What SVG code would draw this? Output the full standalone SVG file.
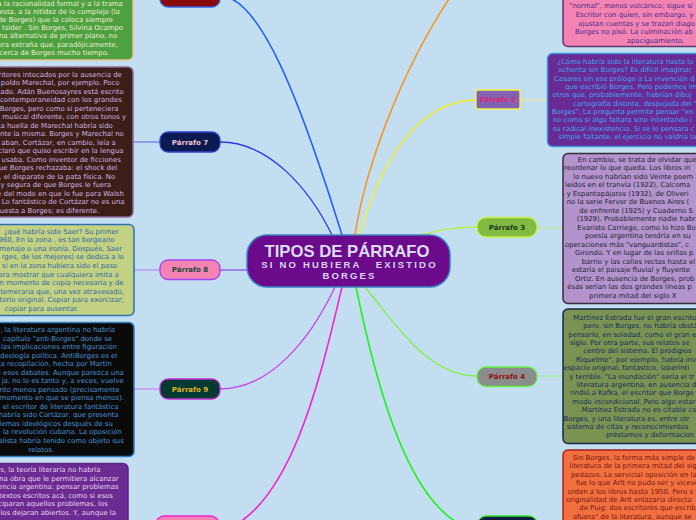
<svg xmlns="http://www.w3.org/2000/svg" width="696" height="520" viewBox="0 0 696 520">
<style>
.lt{font-family:"DejaVu Sans",Verdana,sans-serif;font-size:6.9px}
.le{text-anchor:end}
.nl{font-family:"DejaVu Sans",Verdana,sans-serif;font-size:7px;font-weight:bold;text-anchor:middle}
.c{fill:none}
.box{stroke-width:1.5}
</style>
<rect x="0" y="0" width="696" height="520" fill="#c4def1"/>
<g id="connectors">
<path class="c" d="M220,-4 C260,-4 300,100 342,235" stroke="#2263f2" stroke-width="1.6"/>
<path class="c" d="M220,142 C270,142 310,190 332,235" stroke="#3434e0" stroke-width="1.3"/>
<path class="c" d="M355,235 C365,170 400,70 455,-10" stroke="#f5941e" stroke-width="1.5"/>
<path class="c" d="M360,235 C380,160 420,100 476,100" stroke="#f2f222" stroke-width="1.5"/>
<path class="c" d="M420,235 C440,230 455,227 477,227" stroke="#b4f044" stroke-width="1.3"/>
<path class="c" d="M247,270 L220,270" stroke="#9464f0" stroke-width="1.5"/>
<path class="c" d="M335,287 C310,340 270,389 220,389" stroke="#c444f0" stroke-width="1.3"/>
<path class="c" d="M342,287 C320,380 290,510 220,532" stroke="#f222d2" stroke-width="1.6"/>
<path class="c" d="M356,287 C375,380 410,520 478,530" stroke="#22f022" stroke-width="1.6"/>
<path class="c" d="M365,287 C400,330 430,376 477,376" stroke="#7ef044" stroke-width="1.3"/>
<path class="c" d="M160,142 L133,142" stroke="#5a5af0" stroke-width="1"/>
<path class="c" d="M160,270 L134,270" stroke="#a47cf0" stroke-width="1"/>
<path class="c" d="M160,389 L134,389" stroke="#c474f0" stroke-width="1"/>
<path class="c" d="M520,100 L547,100" stroke="#f0f08a" stroke-width="1"/>
<path class="c" d="M537,228 L563,228" stroke="#b4f070" stroke-width="1"/>
<path class="c" d="M537,376 L563,376" stroke="#9cf07a" stroke-width="1"/>
</g>
<g id="central">
<rect x="247" y="235" width="203" height="52" rx="20" fill="#6b0a8a" stroke="#3a82c2" stroke-width="1.5"/>
<text x="347" y="256.5" font-family="Liberation Sans,Arial,sans-serif" font-weight="bold" font-size="17" fill="#dcdcf6" text-anchor="middle" textLength="165" lengthAdjust="spacingAndGlyphs">TIPOS DE PÁRRAFO</text>
<text x="349.5" y="268.3" font-family="Liberation Sans,Arial,sans-serif" font-weight="bold" font-size="9.5" fill="#d6d6f0" text-anchor="middle" letter-spacing="2.2" xml:space="preserve">SI NO HUBIERA   EXISTIDO</text>
<text x="349.5" y="279" font-family="Liberation Sans,Arial,sans-serif" font-weight="bold" font-size="9.5" fill="#d6d6f0" text-anchor="middle" letter-spacing="2.1">BORGES</text>
</g>
<g id="node-p6">
<rect x="160" y="-14" width="60" height="21" rx="8" fill="#8a0a0a" stroke="#3262e0" stroke-width="1.3"/>
</g>
<g id="node-p7">
<rect x="160" y="132" width="60" height="20" rx="8" fill="#0b1a50" stroke="#3442d0" stroke-width="1.3"/>
<text class="nl" x="190" y="144.5" fill="#f2c4d4">Párrafo 7</text>
</g>
<g id="node-p8">
<rect x="160" y="260" width="60" height="19.5" rx="8" fill="#f283b3" stroke="#a244f0" stroke-width="1.3"/>
<text class="nl" x="190" y="272.3" fill="#1a4a3a">Párrafo 8</text>
</g>
<g id="node-p9">
<rect x="160" y="379" width="60" height="20" rx="8" fill="#003a30" stroke="#c432d2" stroke-width="1.3"/>
<text class="nl" x="190" y="391.6" fill="#e2b222">Párrafo 9</text>
</g>
<g id="node-p10">
<rect x="156" y="516" width="63" height="21" rx="8" fill="#f283b3" stroke="#f022d2" stroke-width="1.3"/>
</g>
<g id="node-p2">
<rect x="476" y="90" width="44" height="19" rx="2" fill="#8262b2" stroke="#f2f242" stroke-width="1.3"/>
<text class="nl" x="498" y="102" fill="#e22272">Párrafo 2</text>
</g>
<g id="node-p3">
<rect x="477" y="217.5" width="60" height="19.5" rx="9" fill="#82ba42" stroke="#c2f242" stroke-width="1.3"/>
<text class="nl" x="507" y="229.8" fill="#1a3a1a">Párrafo 3</text>
</g>
<g id="node-p4">
<rect x="477" y="367" width="60" height="19.5" rx="9" fill="#8c8c8c" stroke="#62f242" stroke-width="1.3"/>
<text class="nl" x="507" y="379.2" fill="#8a1212">Párrafo 4</text>
</g>
<g id="node-p5">
<rect x="478" y="516" width="59" height="21" rx="8" fill="#0b2040" stroke="#32e232" stroke-width="1.3"/>
</g>
<g id="leaf-p6">
<rect class="box" x="-60" y="-40" width="193" height="100" rx="5" fill="#4fa043" stroke="#e9c58a"/>
<text class="lt le" fill="#eef2cc">
<tspan x="125" y="5.5">a la racionalidad formal y a la trama</tspan>
<tspan x="122" y="13.7">esta, a la nitidez de lo complejo (la</tspan>
<tspan x="115.3" y="22">de Borges) que la coloca siempre</tspan>
<tspan x="125.3" y="30.2">tsider . Sin Borges, Silvina Ocampo</tspan>
<tspan x="119.3" y="38.4">una alternativa de primer plano, no</tspan>
<tspan x="120" y="46.7">ora extraña que, paradójicamente,</tspan>
<tspan x="109" y="54.9">cerca de Borges mucho tiempo.</tspan>
</text>
</g>
<g id="leaf-p7">
<rect class="box" x="-60" y="67" width="193" height="150" rx="5" fill="#3b1e17" stroke="#8a6a9a"/>
<text class="lt le" fill="#d4b4e2">
<tspan x="124" y="76.9">ritores intocados por la ausencia de</tspan>
<tspan x="121.7" y="85.4">poldo Marechal, por ejemplo. Poco</tspan>
<tspan x="126" y="93.9">ado. Adán Buenosayres está escrito</tspan>
<tspan x="124" y="102.4">contemporaneidad con los grandes</tspan>
<tspan x="120.7" y="110.9">Borges, pero como si perteneciera</tspan>
<tspan x="128.3" y="119.4">musical diferente, con otros tonos y</tspan>
<tspan x="115" y="127.9">a huella de Marechal habría sido</tspan>
<tspan x="126" y="136.4">nte la misma. Borges y Marechal no</tspan>
<tspan x="118" y="144.9">aban. Cortázar, en cambio, leía a</tspan>
<tspan x="125.7" y="153.4">claró que quiso escribir en la lengua</tspan>
<tspan x="123" y="161.9">usaba. Como inventor de ficciones</tspan>
<tspan x="119.3" y="170.4">ue Borges rechazaba: el shock del</tspan>
<tspan x="117.3" y="178.9">, el disparate de la pata física. No</tspan>
<tspan x="113.3" y="187.4">y segura de que Borges le fuera</tspan>
<tspan x="126" y="195.9">e del modo en que lo fue para Walsh</tspan>
<tspan x="126.7" y="204.4">. Lo fantástico de Cortázar no es una</tspan>
<tspan x="99.3" y="212.9">uesta a Borges; es diferente.</tspan>
</text>
</g>
<g id="leaf-p8">
<rect class="box" x="-60" y="224.5" width="194" height="91" rx="5" fill="#c2d282" stroke="#2f6fb3"/>
<text class="lt le" fill="#3464a8">
<tspan x="120.7" y="233.9">¿qué habría sido Saer? Su primer</tspan>
<tspan x="116.7" y="242.4">960, En la zona , es tan borgeano</tspan>
<tspan x="124.3" y="250.9">menaje o una ironía. Después, Saer</tspan>
<tspan x="126" y="259.4">rges, de los mejores) se dedica a lo</tspan>
<tspan x="119.3" y="267.9">si en la zona hubiera sido el paso</tspan>
<tspan x="121" y="276.5">ara mostrar que cualquiera imita a</tspan>
<tspan x="125.7" y="285">n momento de copia necesaria y de</tspan>
<tspan x="126" y="293.5">temeraria que, una vez atravesado,</tspan>
<tspan x="126" y="302">torio original. Copiar para exorcizar;</tspan>
<tspan x="78.3" y="310.5">copiar para ausentar.</tspan>
</text>
</g>
<g id="leaf-p9">
<rect class="box" x="-60" y="322.5" width="194" height="134" rx="5" fill="#0a0a0a" stroke="#2d7fc0"/>
<text class="lt le" fill="#4a90d0">
<tspan x="117.3" y="332.2">, la literatura argentina no habría</tspan>
<tspan x="114.3" y="340.7">capítulo "anti-Borges" donde se</tspan>
<tspan x="119" y="349.2">las implicaciones entre figuración</tspan>
<tspan x="119.3" y="357.8">ideología política. AntiBorges es el</tspan>
<tspan x="114" y="366.3">a recopilación, hecha por Martín</tspan>
<tspan x="126" y="374.8">e esos debates. Aunque parezca una</tspan>
<tspan x="126" y="383.3">ja, no lo es tanto y, a veces, vuelve</tspan>
<tspan x="121.7" y="391.8">nto menos pensado (precisamente</tspan>
<tspan x="126" y="400.4">momento en que se piensa menos).</tspan>
<tspan x="120.7" y="408.9">. el escritor de literatura fantástica</tspan>
<tspan x="120.7" y="417.4">habría sido Cortázar, que presenta</tspan>
<tspan x="115" y="425.9">olemas ideológicos después de su</tspan>
<tspan x="124" y="434.4">la revolución cubana. La oposición</tspan>
<tspan x="126" y="443">alista habría tenido como objeto sus</tspan>
<tspan x="54" y="451.5">relatos.</tspan>
</text>
</g>
<g id="leaf-p10">
<rect class="box" x="-60" y="463.5" width="188" height="80" rx="5" fill="#6a2c92" stroke="#5a2488"/>
<text class="lt le" fill="#f0d2f0">
<tspan x="102.7" y="472.2">s, la teoría literaria no habría</tspan>
<tspan x="120.7" y="480.7">na obra que le permitiera alcanzar</tspan>
<tspan x="120.7" y="489.2">encia argentina: pensar problemas</tspan>
<tspan x="115" y="497.7">textos escritos acá, como si esos</tspan>
<tspan x="110" y="506.2">ciparan aquellos problemas, los</tspan>
<tspan x="116" y="514.7">los dejaran abiertos. Y, aunque la</tspan>
</text>
</g>
<g id="leaf-p1">
<rect class="box" x="563" y="-40" width="200" height="86.5" rx="5" fill="#f283b3" stroke="#5e3a6a"/>
<text class="lt" fill="#4a2a8a">
<tspan x="569.3" y="8.2">"normal", menos volcánico; sigue si</tspan>
<tspan x="575.7" y="16.9">Escritor con quien, sin embargo, y</tspan>
<tspan x="578.3" y="25.5">ajustan cuentas y se trazan diago</tspan>
<tspan x="575" y="34.2">Borges no pisó. La culminación ab</tspan>
<tspan x="626.7" y="42.9">apaciguamiento.</tspan>
</text>
</g>
<g id="leaf-p2">
<rect class="box" x="547.5" y="53.5" width="220" height="93" rx="5" fill="#6a2a94" stroke="#3a96dc"/>
<text class="lt" fill="#42a6ee">
<tspan x="557.3" y="63.9">¿Cómo habría sido la literatura hasta lo</tspan>
<tspan x="558.3" y="72.2">ochenta sin Borges? Es difícil imaginar</tspan>
<tspan x="554" y="80.6">Casares sin ese prólogo a La invención d</tspan>
<tspan x="565" y="88.9">que escribió Borges. Pero podemos ima</tspan>
<tspan x="552.3" y="97.2">otros que, probablemente, habrían dibuj</tspan>
<tspan x="573.3" y="105.6">cartografía distinta, despojada del "ca</tspan>
<tspan x="551.7" y="113.9">Borges". La pregunta permite pensar "en</tspan>
<tspan x="552.7" y="122.2">no como si algo faltara sino intentando i</tspan>
<tspan x="552.7" y="130.6">su radical inexistencia. Si se lo pensara c</tspan>
<tspan x="558.3" y="138.9">simple faltante, el ejercicio no valdría la</tspan>
</text>
</g>
<g id="leaf-p3">
<rect class="box" x="563" y="153.5" width="200" height="150" rx="5" fill="#b293cc" stroke="#3a2a40"/>
<text class="lt" fill="#2a1a3a">
<tspan x="577.7" y="161.5">En cambio, se trata de olvidar que</tspan>
<tspan x="564" y="170">reordenar lo que queda. Los libros in</tspan>
<tspan x="573.3" y="178.6">lo nuevo habrían sido Veinte poem</tspan>
<tspan x="565" y="187.1">leídos en el tranvía (1922), Calcoma</tspan>
<tspan x="566.7" y="195.6">y Espantapájaros (1932), de Oliveri</tspan>
<tspan x="566.7" y="204.1">no la serie Fervor de Buenos Aires (</tspan>
<tspan x="579.3" y="212.7">de enfrente (1925) y Cuaderno S</tspan>
<tspan x="576.7" y="221.2">(1929). Probablemente nadie habr</tspan>
<tspan x="577.3" y="229.7">Evaristo Carriego, como lo hizo Bo</tspan>
<tspan x="585" y="238.2">poesía argentina tendría en su</tspan>
<tspan x="565" y="246.8">operaciones más "vanguardistas", c</tspan>
<tspan x="575" y="255.3">Girondo. Y en lugar de las orillas p</tspan>
<tspan x="581.7" y="263.8">barrio y las calles rectas hasta el</tspan>
<tspan x="571.7" y="272.3">estaría el paisaje fluvial y fluyente</tspan>
<tspan x="575" y="280.9">Ortiz. En ausencia de Borges, prob</tspan>
<tspan x="567.3" y="289.4">ésas serían las dos grandes líneas p</tspan>
<tspan x="589.3" y="297.9">primera mitad del siglo X</tspan>
</text>
</g>
<g id="leaf-p4">
<rect class="box" x="563" y="309" width="200" height="134.5" rx="5" fill="#7a9352" stroke="#1a2848"/>
<text class="lt" fill="#1a2a5a">
<tspan x="573.3" y="319.9">Martínez Estrada fue el gran escrito</tspan>
<tspan x="583.3" y="328.3">pero, sin Borges, no habría obstá</tspan>
<tspan x="568.3" y="336.7">pensarlo, en soledad, como el gran e</tspan>
<tspan x="570" y="345">siglo. Por otra parte, sus relatos se</tspan>
<tspan x="583.3" y="353.4">centro del sistema. El prodigios</tspan>
<tspan x="576" y="361.8">Riquelme", por ejemplo, habría inv</tspan>
<tspan x="563.5" y="370.2">espacio original, fantástico, laberínti</tspan>
<tspan x="569.3" y="378.6">y terrible. "La inundación" sería el tr</tspan>
<tspan x="576.7" y="386.9">literatura argentina, en ausencia d</tspan>
<tspan x="570" y="395.3">rindió a Kafka, el escritor que Borge</tspan>
<tspan x="572.3" y="403.7">modo incondicional. Pero algo estar</tspan>
<tspan x="581.7" y="412.1">Martínez Estrada no es citable co</tspan>
<tspan x="563.5" y="420.5">Borges, y una literatura es, entre otr</tspan>
<tspan x="566.7" y="428.8">sistema de citas y reconocimientos</tspan>
<tspan x="606" y="437.2">préstamos y deformacion</tspan>
</text>
</g>
<g id="leaf-p5">
<rect class="box" x="563" y="450" width="200" height="90" rx="5" fill="#f2703f" stroke="#a52020"/>
<text class="lt" fill="#7a1212">
<tspan x="572.7" y="459.5">Sin Borges, la forma más simple de</tspan>
<tspan x="569.3" y="468">literatura de la primera mitad del sig</tspan>
<tspan x="571" y="476.5">pedazos. La servicial oposición en la</tspan>
<tspan x="576" y="485">fue lo que Arlt no pudo ser y viceve</tspan>
<tspan x="567.7" y="493.5">orden a los libros hasta 1950. Pero s</tspan>
<tspan x="566" y="501.9">originalidad de Arlt enlazaría directa</tspan>
<tspan x="579.3" y="510.4">de Puig: dos escritores que escrib</tspan>
<tspan x="572.7" y="518.9">afuera" de la literatura, aunque se</tspan>
</text>
</g>
</svg>
